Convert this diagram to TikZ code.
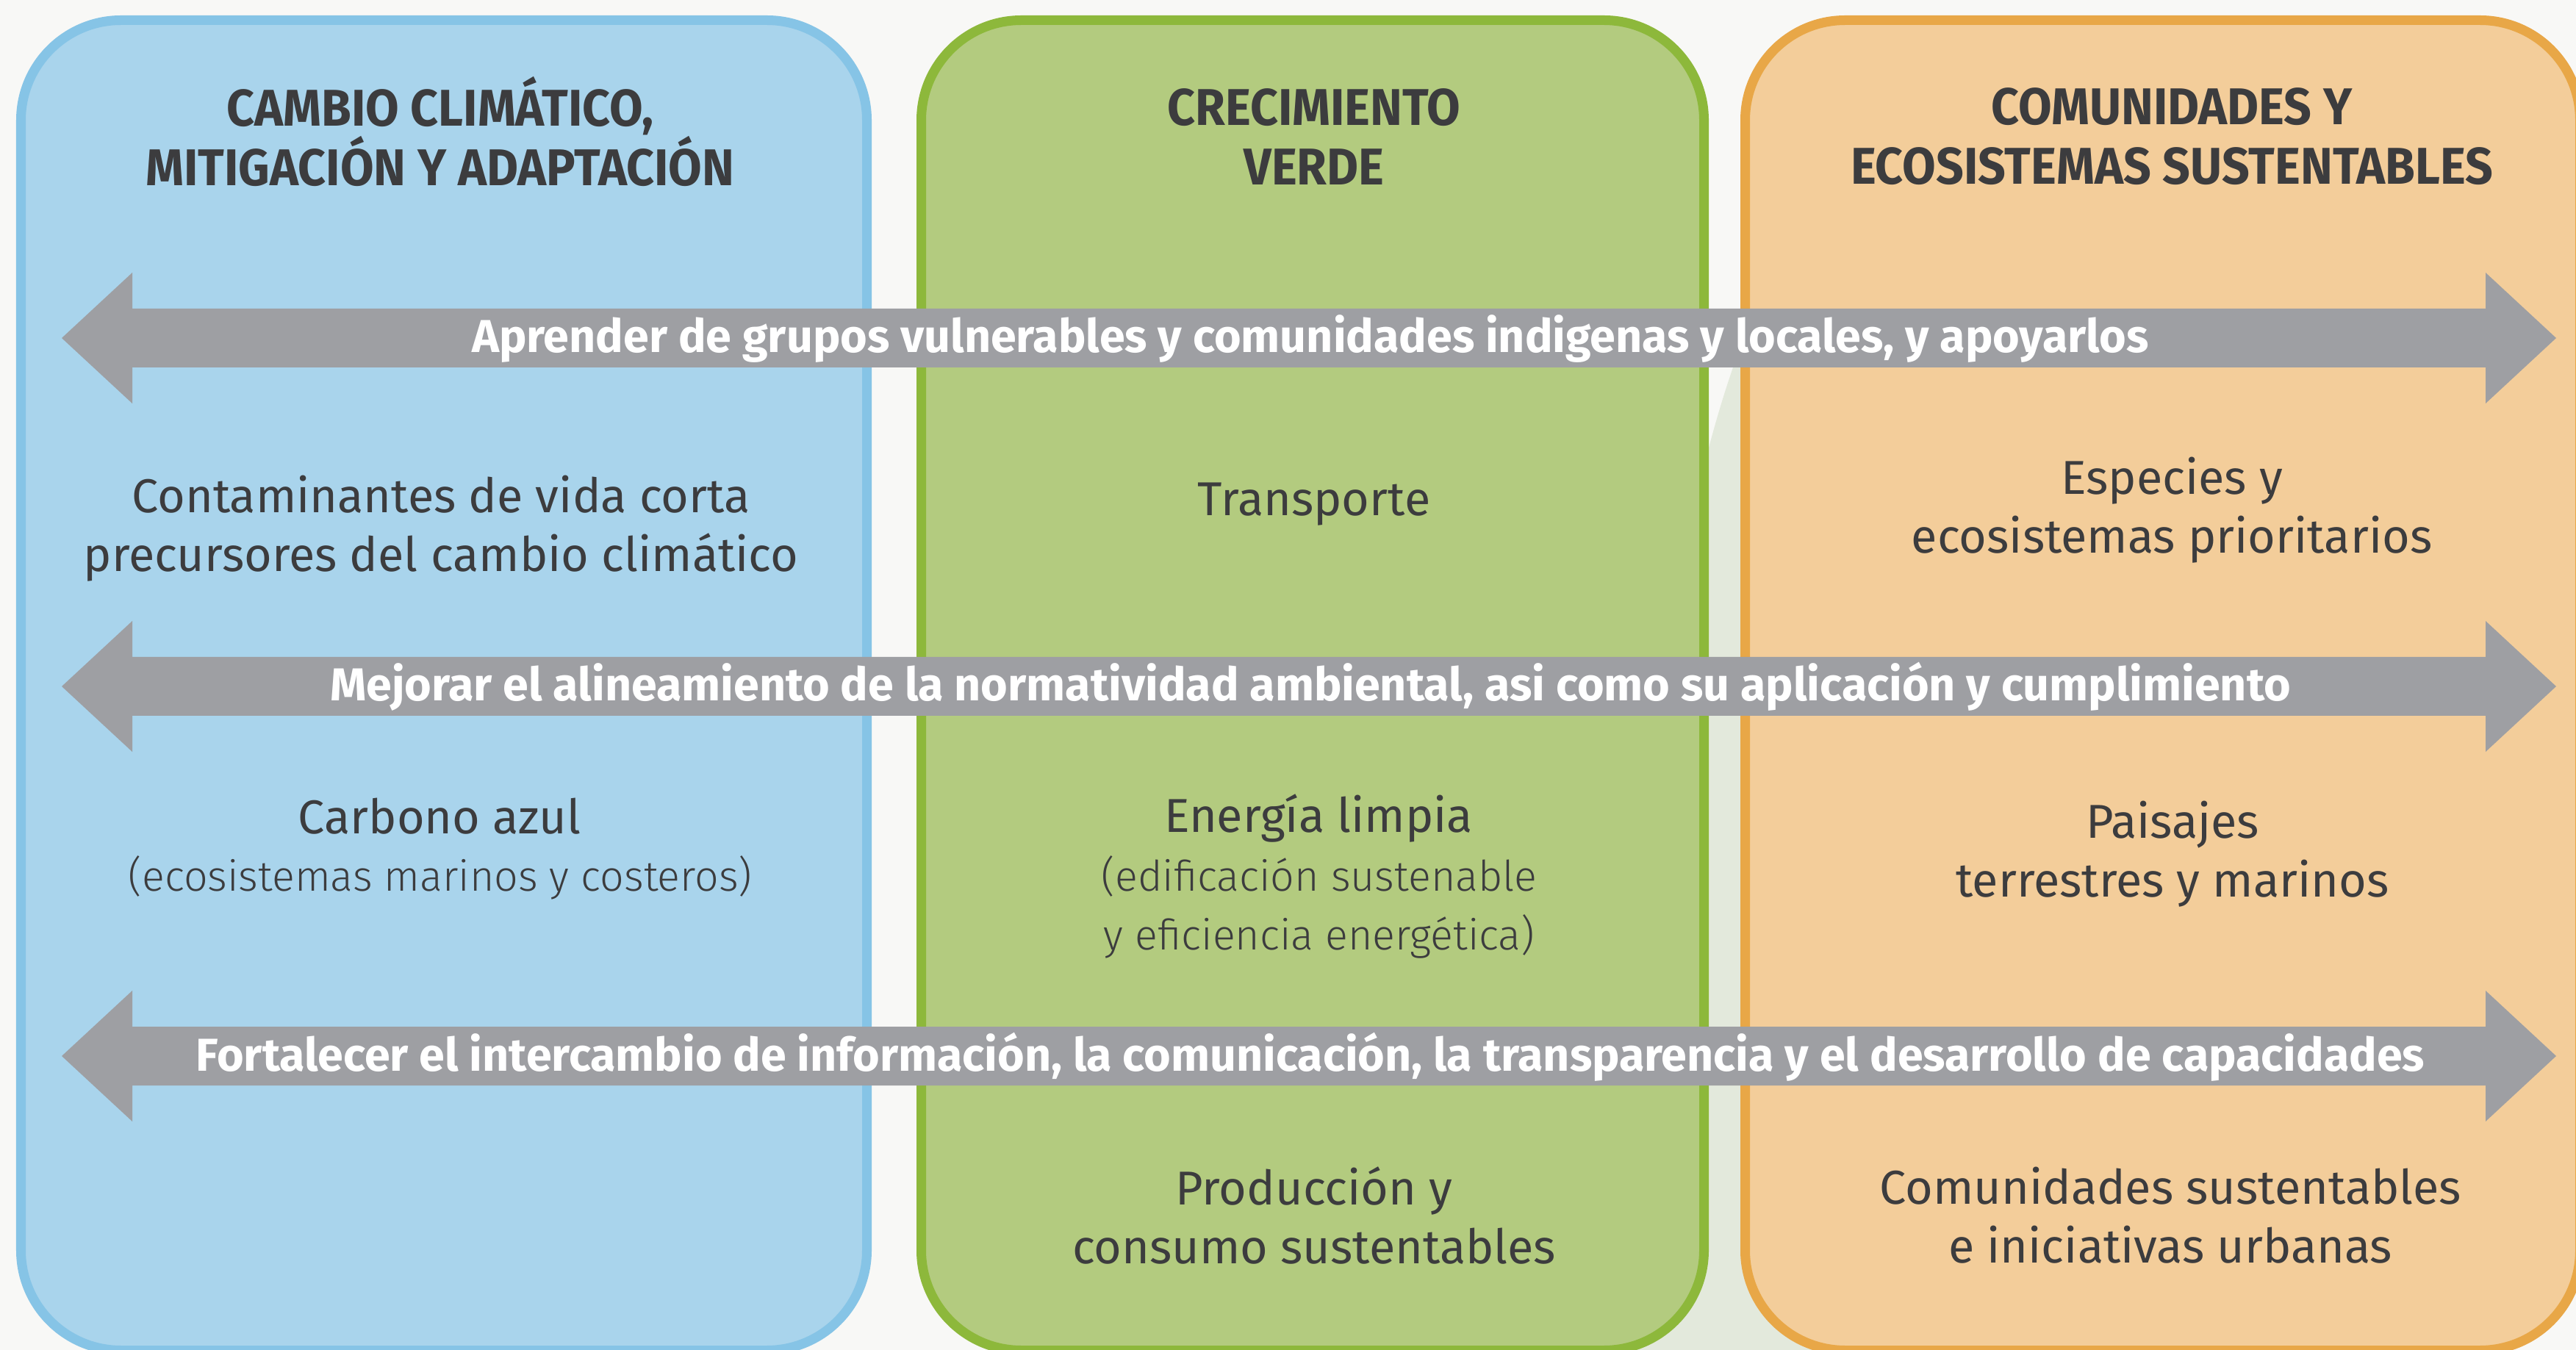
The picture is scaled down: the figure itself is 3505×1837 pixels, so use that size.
\documentclass[tikz,border=0pt]{standalone}
\usepackage{fontspec}
\setmainfont{Fira Sans}
\newfontfamily\headfont{Fira Sans}[FakeStretch=0.94]
\newfontfamily\lightfont{Fira Sans Light}
\usetikzlibrary{positioning}
\definecolor{bgcol}{HTML}{F8F8F6}
\definecolor{swoosh}{HTML}{E3E9DC}
\definecolor{bluefill}{HTML}{A9D4EC}
\definecolor{blueline}{HTML}{86C4E6}
\definecolor{greenfill}{HTML}{B3CB7F}
\definecolor{greenline}{HTML}{8DB83B}
\definecolor{orangefill}{HTML}{F3CD9A}
\definecolor{orangeline}{HTML}{E8A747}
\definecolor{bandgray}{HTML}{9E9FA3}
\definecolor{ink}{HTML}{3C3C3E}
\tikzset{column/.style 2 args={fill=#1, draw=#2, line width=0.13cm, rounded corners=1.36cm},
  head/.style={text=ink, align=center, font=\headfont\bfseries\fontsize{20}{23}\selectfont},
  body/.style={text=ink, align=center, font=\fontsize{18.4}{22.8}\selectfont},
  sub/.style={text=ink, align=center, font=\lightfont\fontsize{16.3}{22.8}\selectfont},
  band/.style={fill=bandgray},
  bandtxt/.style={text=white, anchor=base, inner sep=0pt, font=\bfseries\fontsize{17.85}{20}\selectfont}}

\begin{document}
\begin{tikzpicture}[x=0.01cm, y=-0.01cm]
  \useasboundingbox (0,0) rectangle (3505,1837);
  \clip (0,0) rectangle (3505,1837);
  \fill[bgcol] (0,0) rectangle (3505,1837);
  \fill[swoosh] (2150,1837) .. controls (2250,900) and (2300,500) .. (2480,260) -- (2480,1837) -- cycle;
  % the three columns
  \draw[column={bluefill}{blueline}] (28.5,27.5) rectangle (1179.5,1837.5);
  \draw[column={greenfill}{greenline}] (1253.5,27.5) rectangle (2318.5,1837.5);
  \draw[column={orangefill}{orangeline}] (2374.5,27.5) rectangle (3510.5,1837.5);
  % headings
  \node[head] (hclima) at (599,179) {CAMBIO CLIMÁTICO,\\MITIGACIÓN Y ADAPTACIÓN};
  \node[head] (hverde) at (1788,186) {CRECIMIENTO\\VERDE};
  \node[head] (hcomun) at (2955,186) {COMUNIDADES Y\\ECOSISTEMAS SUSTENTABLES};
  % cross-cutting arrows
  \foreach \c/\name/\t in {460/aprender/{Aprender de grupos vulnerables y comunidades indigenas y locales, y apoyarlos},
      934/mejorar/{Mejorar el alineamiento de la normatividad ambiental, asi como su aplicación y cumplimiento},
      1437/fortalecer/{Fortalecer el intercambio de información, la comunicación, la transparencia y el desarrollo de capacidades}} {
    \fill[band] (84,\c) -- (180,\c-89) -- (180,\c-40) -- (3382,\c-40) -- (3382,\c-89) -- (3478,\c)
      -- (3382,\c+89) -- (3382,\c+40) -- (180,\c+40) -- (180,\c+89) -- cycle;
    \node[bandtxt] (\name) at (1783,\c+20) {\t};
  }
  % topics
  \node[body] (contam) at (600,719) {Contaminantes de vida corta\\precursores del cambio climático};
  \node[body] (transp) at (1788,686) {Transporte};
  \node[body] (especies) at (2955,694) {Especies y\\ecosistemas prioritarios};
  \node[body] (carbono) at (598,1111) {Carbono azul};
  \node[sub] (carbsub) at (599,1194) {(ecosistemas marinos y costeros)};
  \node[body] (energia) at (1794,1113) {Energía limpia};
  \node[sub] (enersub) at (1795,1234) {(edificación sustenable\\y eficiencia energética)};
  \node[body] (paisajes) at (2956,1162) {Paisajes\\terrestres y marinos};
  \node[body] (produc) at (1788,1654) {Producción y\\consumo sustentables};
  \node[body] (comunid) at (2953,1654) {Comunidades sustentables\\e iniciativas urbanas};
\end{tikzpicture}
\end{document}
